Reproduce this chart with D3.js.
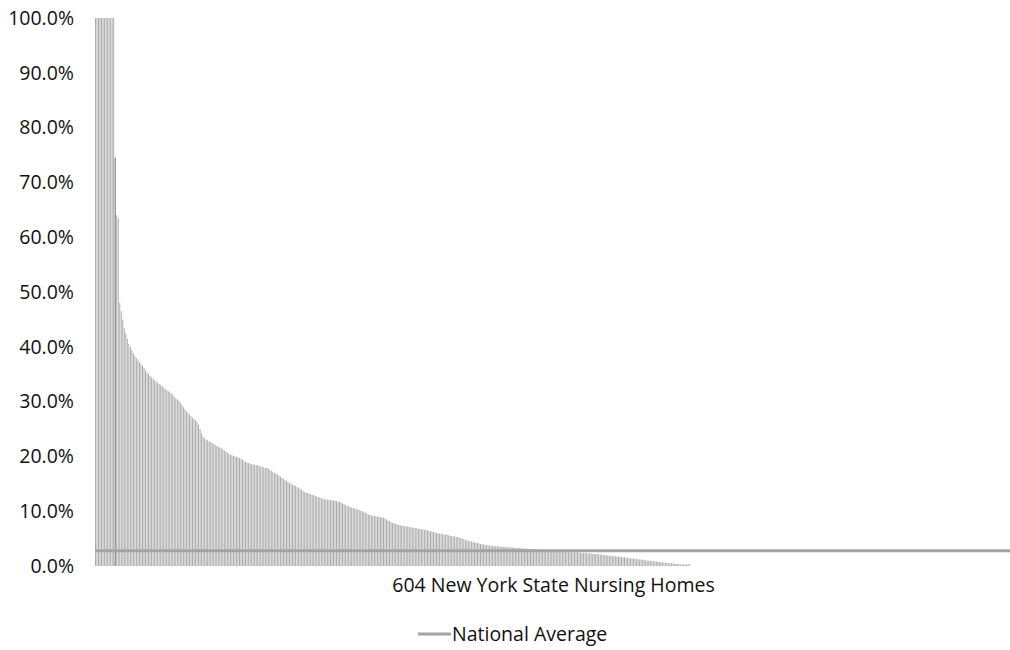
<!DOCTYPE html>
<html>
<head>
<meta charset="utf-8">
<script src="https://cdn.jsdelivr.net/npm/d3@7"></script>
<style>
  html, body { margin: 0; padding: 0; background: #fff; }
  svg { display: block; }
  text { font-family: "Open Sans", "Noto Sans", sans-serif; fill: #111; }
</style>
</head>
<body>
<svg id="chart" width="1010" height="650"></svg>
<script>
// Share of each nursing home (sorted, %), 604 New York State nursing homes
const nonZeroRates = [
  100,100,100,100,100,100,100,100,100,100,100,100,100,
  74.5,
  64,63.5,
  48,46.5,45,43.5,42.5,
  41.5,40.5,40,39.4,38.8,38.3,37.9,37.5,37.2,36.8,
  36.5,36.1,35.7,35.3,35.0,34.7,34.4,34.2,33.9,33.7,
  33.5,33.2,33.0,32.8,32.6,32.3,32.1,31.9,31.7,31.5,
  31.2,30.9,30.6,30.4,30.2,29.8,29.4,29.0,28.6,28.2,
  27.9,27.6,27.3,27.0,26.8,26.6,26.3,25.8,25.0,24.2,
  23.6,23.3,23.1,22.9,22.7,22.6,22.4,22.3,22.1,21.9,
  21.8,21.6,21.5,21.3,21.1,20.9,20.7,20.5,20.3,20.2,
  20.1,20.0,19.9,19.8,19.7,19.6,19.4,19.2,19.0,18.9,
  18.8,18.7,18.6,18.5,18.5,18.4,18.4,18.3,18.2,18.1,
  18.0,17.9,17.9,17.8,17.6,17.4,17.2,17.0,16.9,16.7,
  16.5,16.3,16.1,15.9,15.7,15.5,15.3,15.1,15.0,14.8,
  14.7,14.6,14.4,14.3,14.1,13.9,13.7,13.5,13.4,13.3,
  13.2,13.1,13.0,12.9,12.8,12.7,12.6,12.5,12.4,12.3,
  12.2,12.2,12.1,12.1,12.0,12.0,11.9,11.9,11.8,11.8,
  11.7,11.6,11.4,11.3,11.1,11.0,10.9,10.8,10.7,10.6,
  10.5,10.4,10.3,10.2,10.1,10.0,9.9,9.7,9.6,9.4,
  9.3,9.2,9.2,9.1,9.1,9.0,9.0,8.9,8.9,8.8,
  8.7,8.5,8.3,8.2,8.0,7.9,7.8,7.7,7.6,7.5,
  7.4,7.4,7.3,7.3,7.2,7.2,7.1,7.1,7.0,7.0,
  6.9,6.9,6.8,6.8,6.7,6.7,6.6,6.6,6.5,6.4,
  6.3,6.3,6.2,6.1,6.0,6.0,5.9,5.9,5.8,5.8,
  5.7,5.7,5.6,5.5,5.5,5.4,5.4,5.3,5.3,5.2,
  5.1,5.0,4.9,4.8,4.7,4.6,4.5,4.5,4.4,4.3,
  4.2,4.2,4.1,4.0,4.0,3.9,3.9,3.8,3.8,3.7,
  3.7,3.7,3.6,3.6,3.6,3.6,3.5,3.5,3.5,3.5,
  3.5,3.4,3.4,3.4,3.4,3.3,3.3,3.3,3.3,3.3,
  3.2,3.2,3.2,3.2,3.1,3.1,3.1,3.1,3.1,3.0,
  3.0,3.0,3.0,2.9,2.9,2.9,2.9,2.9,2.8,2.8,
  2.8,2.8,2.8,2.7,2.7,2.7,2.7,2.7,2.6,2.6,
  2.6,2.6,2.6,2.5,2.5,2.5,2.5,2.5,2.5,2.4,
  2.4,2.4,2.4,2.3,2.3,2.3,2.3,2.2,2.2,2.2,
  2.2,2.1,2.1,2.1,2.0,2.0,2.0,1.9,1.9,1.9,
  1.8,1.8,1.8,1.7,1.7,1.7,1.6,1.6,1.6,1.5,
  1.5,1.4,1.4,1.4,1.3,1.3,1.3,1.2,1.2,1.2,
  1.1,1.1,1.0,1.0,1.0,0.9,0.9,0.9,0.8,0.8,
  0.8,0.7,0.7,0.7,0.6,0.6,0.6,0.5,0.5,0.5,
  0.5,0.4,0.4,0.4,0.4,0.3,0.3,0.3,0.3,0.3,0.3,0.3
];
const zeroRates = [
  0,0,0,0,0,0,0,0,0,0,0,0,0,0,0,0,0,0,0,0,0,0,0,0,0,0,0,0,0,0,
  0,0,0,0,0,0,0,0,0,0,0,0,0,0,0,0,0,0,0,0,0,0,0,0,0,0,0,0,0,0,
  0,0,0,0,0,0,0,0,0,0,0,0,0,0,0,0,0,0,0,0,0,0,0,0,0,0,0,0,0,0,
  0,0,0,0,0,0,0,0,0,0,0,0,0,0,0,0,0,0,0,0,0,0,0,0,0,0,0,0,0,0,
  0,0,0,0,0,0,0,0,0,0,0,0,0,0,0,0,0,0,0,0,0,0,0,0,0,0,0,0,0,0,
  0,0,0,0,0,0,0,0,0,0,0,0,0,0,0,0,0,0,0,0,0,0,0,0,0,0,0,0,0,0,
  0,0,0,0,0,0,0,0,0,0,0,0,0,0,0,0,0,0,0,0,0,0,0,0,0,0,0,0,0,0,
  0
];
const nationalAverage = 2.8;
const yTicks = [0, 10, 20, 30, 40, 50, 60, 70, 80, 90, 100];
const xTitle = "604 New York State Nursing Homes";
const legendLabel = "National Average";

const rates = nonZeroRates.concat(zeroRates);
const homes = rates.map((v, i) => i);

const svg = d3.select("#chart");
const plot = { left: 95, right: 1010, top: 18, bottom: 566 };

const x = d3.scaleBand().domain(homes).range([plot.left, plot.right]).paddingInner(0.35).paddingOuter(0);
const y = d3.scaleLinear().domain([0, 100]).range([plot.bottom, plot.top]);

// bars
svg.append("g")
  .selectAll("rect")
  .data(rates)
  .join("rect")
  .attr("x", (d, i) => x(i))
  .attr("width", x.bandwidth())
  .attr("y", d => y(d))
  .attr("height", d => y(0) - y(d))
  .attr("fill", (d, i) => i === 13 ? "#6a6a6a" : "#ababab");

// national average line
svg.append("line")
  .attr("x1", plot.left).attr("x2", plot.right)
  .attr("y1", y(nationalAverage)).attr("y2", y(nationalAverage))
  .attr("stroke", "#a3a3a3").attr("stroke-width", 3);

// y axis (labels only)
const yAxis = d3.axisLeft(y).tickValues(yTicks).tickFormat(d => d3.format(".1f")(d) + "%").tickSize(0).tickPadding(21);
const gy = svg.append("g").attr("transform", `translate(${plot.left},0)`).call(yAxis);
gy.select(".domain").remove();
gy.selectAll("text").attr("font-size", 19.5).attr("font-family", "Open Sans, sans-serif").attr("fill", "#111");

// x title
svg.append("text")
  .attr("x", (plot.left + plot.right) / 2 + 1)
  .attr("y", 592)
  .attr("text-anchor", "middle")
  .attr("font-size", 19.5)
  .text(xTitle);

// legend
const lg = svg.append("g");
lg.append("line").attr("x1", 418).attr("x2", 451).attr("y1", 634).attr("y2", 634)
  .attr("stroke", "#a3a3a3").attr("stroke-width", 3);
lg.append("text").attr("x", 452).attr("y", 641).attr("font-size", 19.5).text(legendLabel);
</script>
</body>
</html>
